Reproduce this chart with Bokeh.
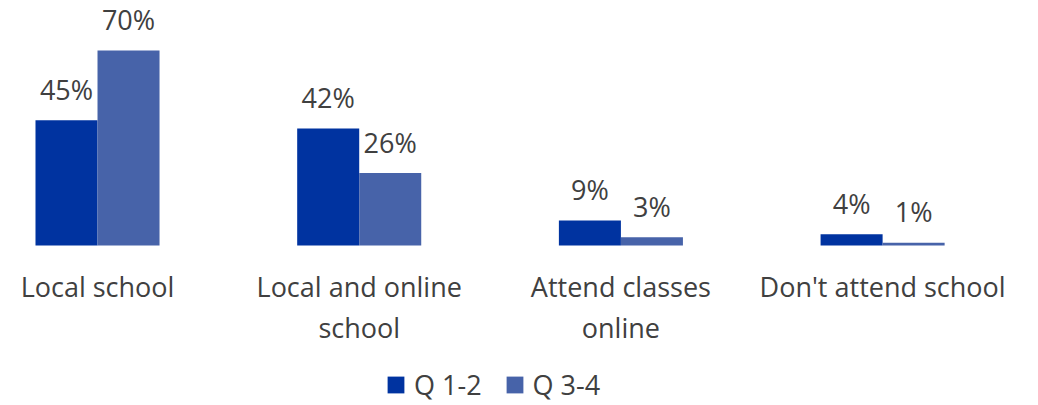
from bokeh.plotting import figure
from bokeh.models import ColumnDataSource, Range1d, Legend, LegendItem
from bokeh.transform import dodge
from bokeh.core.properties import value
from bokeh.embed import file_html
from bokeh.resources import INLINE

categories = ["Local school", "Local and online\nschool", "Attend classes\nonline", "Don't attend school"]
q12 = [45, 42, 9, 4]
q34 = [70, 26, 3, 1]
series_names = ["Q 1-2", "Q 3-4"]
colors = ["#0033A0", "#4763A9"]

FONT = value("Open Sans")
TEXT_COLOR = "#404040"

pos = list(range(len(categories)))
src = ColumnDataSource(dict(
    x=pos, cat=categories, q12=q12, q34=q34,
    l12=[f"{v}%" for v in q12], l34=[f"{v}%" for v in q34],
    zero=[0] * len(categories),
))

W, H = 1038, 405
p = figure(width=W, height=H,
           x_range=Range1d(-0.3707, 3.5957), y_range=Range1d(-57.43, 87.94),
           x_axis_type=None, y_axis_type=None,
           output_backend="svg", toolbar_location=None,
           min_border=0, outline_line_color=None)
p.grid.visible = False
p.background_fill_color = "white"
p.border_fill_color = "white"

bw = 0.237
r1 = p.vbar(x=dodge('x', -bw / 2), top='q12', width=bw, source=src,
            fill_color=colors[0], line_color=None)
r2 = p.vbar(x=dodge('x', bw / 2), top='q34', width=bw, source=src,
            fill_color=colors[1], line_color=None)

p.text(x=dodge('x', -bw / 2), y='q12', text='l12', source=src,
       text_align='center', text_baseline='alphabetic', y_offset=-31,
       text_font=FONT, text_font_size='27px', text_color=TEXT_COLOR)
p.text(x=dodge('x', bw / 2), y='q34', text='l34', source=src,
       text_align='center', text_baseline='alphabetic', y_offset=-31,
       text_font=FONT, text_font_size='27px', text_color=TEXT_COLOR)

p.text(x='x', y='zero', text='cat', source=src,
       text_align='center', text_baseline='top', y_offset=22,
       text_line_height=1.11,
       text_font=FONT, text_font_size='27px', text_color=TEXT_COLOR)

legend = Legend(items=[LegendItem(label=series_names[0], renderers=[r1]),
                       LegendItem(label=series_names[1], renderers=[r2])],
                orientation='horizontal', location=(385, 2),
                glyph_width=21, glyph_height=21,
                label_text_font="Open Sans", label_text_font_size="27px",
                label_text_color=TEXT_COLOR, label_standoff=8, spacing=22,
                padding=0, margin=0, border_line_color=None,
                background_fill_alpha=0)
p.add_layout(legend)

open("out.html", "w").write(file_html(p, INLINE))
